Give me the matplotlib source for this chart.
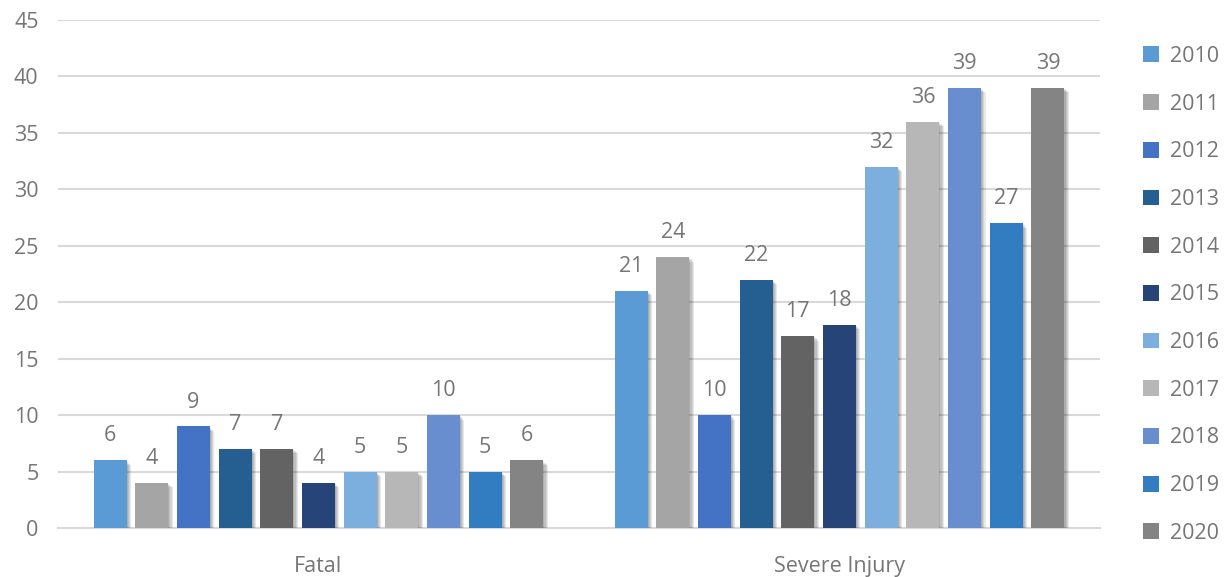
import numpy as np
import matplotlib
matplotlib.use("Agg")
import matplotlib.pyplot as plt
import matplotlib.patheffects as pe
from matplotlib.patches import Patch

plt.rcParams['font.family'] = ['Open Sans', 'DejaVu Sans']

categories = ['Fatal', 'Severe Injury']
years = ['2010', '2011', '2012', '2013', '2014', '2015',
         '2016', '2017', '2018', '2019', '2020']
fatal = [6, 4, 9, 7, 7, 4, 5, 5, 10, 5, 6]
severe = [21, 24, 10, 22, 17, 18, 32, 36, 39, 27, 39]
colors = ['#5B9BD5', '#A5A5A5', '#4472C4', '#255E91', '#636363', '#264478',
          '#7CAFDD', '#B7B7B7', '#698ED0', '#327DC2', '#848484']

text_col = '#767676'
grid_col = '#D9D9D9'

fig = plt.figure(figsize=(12.28, 5.77), dpi=100)
ax = fig.add_axes([0.0472, 0.0849, 0.8486, 0.8804])

# soft drop shadow: a few stacked offset copies
shadow = [pe.SimplePatchShadow(offset=(d, -d), shadow_rgbFace='k', alpha=0.09)
          for d in (0.8, 1.6, 2.4, 3.2)] + [pe.Normal()]

pitch = 0.08
width = 0.0633
x = np.arange(len(categories))
values = np.array([fatal, severe]).T  # one row per year
n = len(years)
for i, (yr, col) in enumerate(zip(years, colors)):
    xs = x + (i - (n - 1) / 2) * pitch
    bars = ax.bar(xs, values[i], width=width, color=col, zorder=3)
    for b in bars:
        b.set_path_effects(shadow)
    for xi, v in zip(xs, values[i]):
        ax.annotate(str(v), (xi, v), xytext=(0, 10), textcoords='offset points',
                    ha='center', va='bottom', fontsize=15.5, color=text_col)

ax.set_xlim(-0.5, 1.5)
ax.set_ylim(0, 45)
ax.set_yticks(range(0, 46, 5))
ax.set_xticks(x)
ax.set_xticklabels(categories)
ax.tick_params(axis='both', length=0, labelsize=15.5, labelcolor=text_col)
ax.tick_params(axis='y', pad=14)
ax.tick_params(axis='x', pad=20)
ax.grid(axis='y', color=grid_col, linewidth=1.5, zorder=0)
for s in ['top', 'right', 'left']:
    ax.spines[s].set_visible(False)
ax.spines['bottom'].set_color(grid_col)
ax.spines['bottom'].set_linewidth(1.5)

handles = [Patch(facecolor=c, label=y) for c, y in zip(colors, years)]
leg = fig.legend(handles=handles, loc='center left', bbox_to_anchor=(0.922, 0.489),
                 frameon=False, fontsize=15.5, labelcolor=text_col,
                 handlelength=0.75, handleheight=0.75, handletextpad=0.5,
                 labelspacing=1.24, borderpad=0)

fig.savefig('out.png', dpi=100)
